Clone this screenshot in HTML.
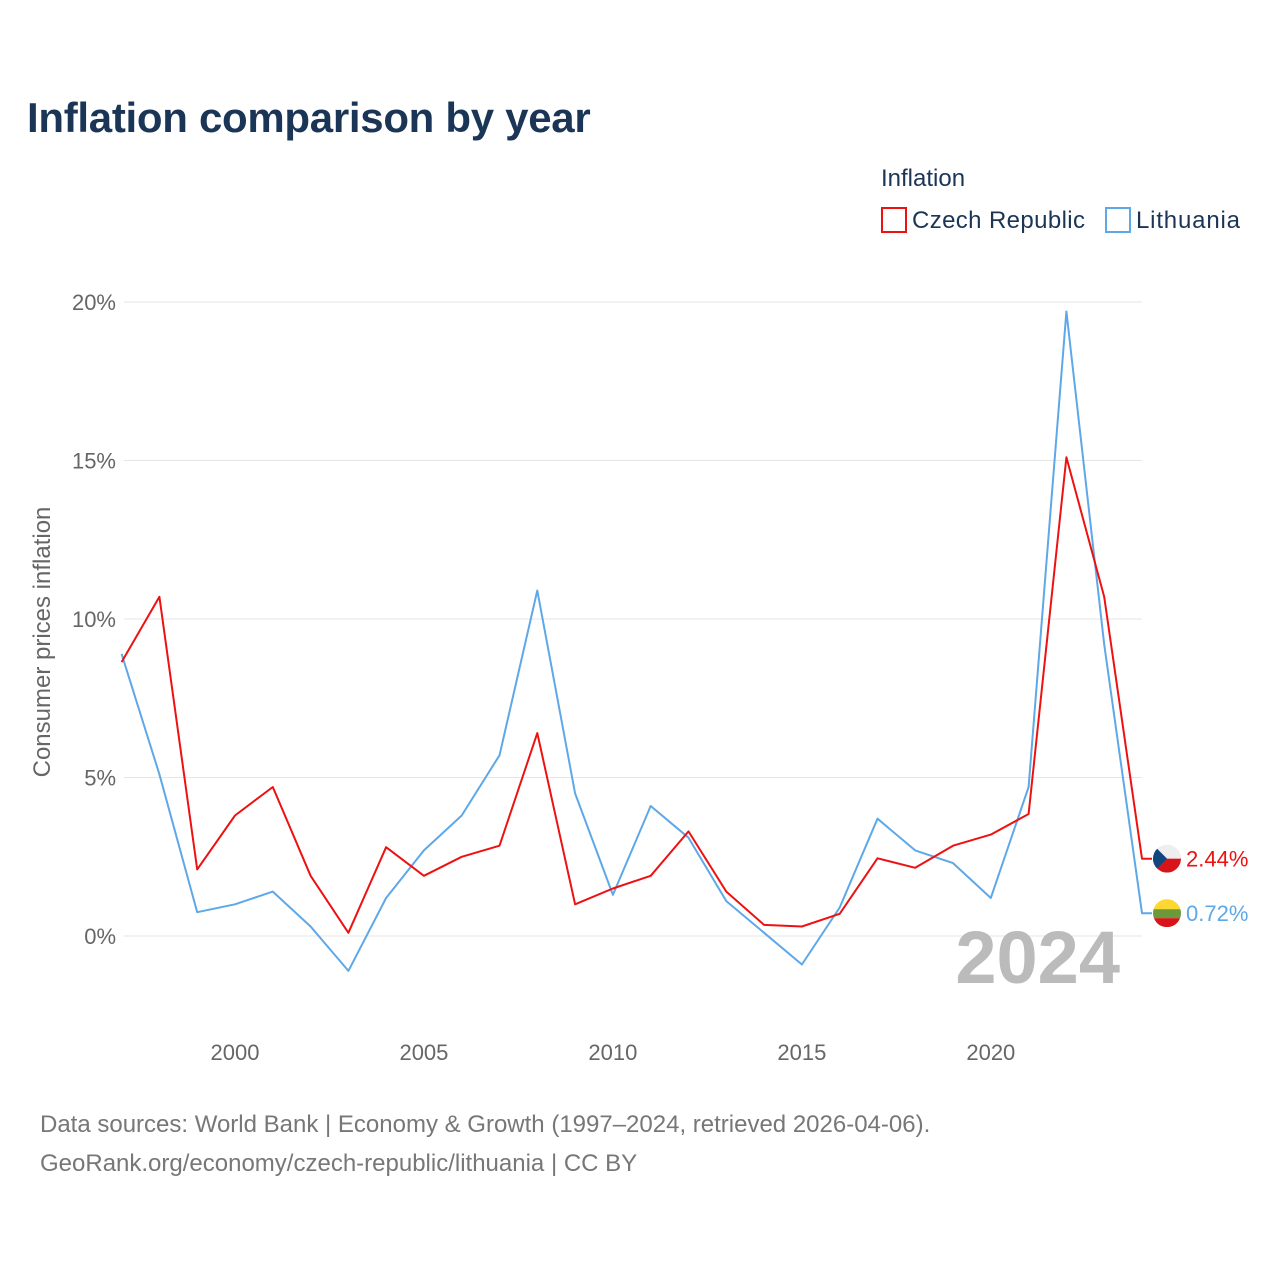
<!DOCTYPE html>
<html><head><meta charset="utf-8"><style>
body{margin:0;background:#fff;font-family:"Liberation Sans",sans-serif}
</style></head><body>
<svg id="chart" width="1280" height="1280" xmlns="http://www.w3.org/2000/svg" font-family="Liberation Sans, sans-serif">
<text x="27" y="132" font-size="42" font-weight="bold" fill="#1b3556" letter-spacing="-0.3">Inflation comparison by year</text>
<text x="881" y="186" font-size="24" fill="#1b3556">Inflation</text>
<g><rect x="882" y="208" width="24" height="24" fill="none" stroke="#ee1111" stroke-width="2"/><text x="912" y="228" font-size="24" fill="#1b3556" textLength="173">Czech Republic</text></g>
<g><rect x="1106" y="208" width="24" height="24" fill="none" stroke="#5ea8e8" stroke-width="2"/><text x="1136" y="228" font-size="24" fill="#1b3556" textLength="104">Lithuania</text></g>
<text transform="translate(50,642) rotate(-90)" text-anchor="middle" font-size="24" fill="#666">Consumer prices inflation</text>
<g id="grid"></g><g id="yt"></g><g id="xt"></g>
<text x="1120" y="983" text-anchor="end" font-size="74" font-weight="bold" fill="#bbb">2024</text>
<g id="series"></g>
<text x="40" y="1132" font-size="24" fill="#777">Data sources: World Bank | Economy &amp; Growth (1997–2024, retrieved 2026-04-06).</text>
<text x="40" y="1171" font-size="24" fill="#777">GeoRank.org/economy/czech-republic/lithuania | CC BY</text>
</svg>
<script>
const years=[1997,1998,1999,2000,2001,2002,2003,2004,2005,2006,2007,2008,2009,2010,2011,2012,2013,2014,2015,2016,2017,2018,2019,2020,2021,2022,2023,2024];
const czech=[8.64,10.7,2.1,3.8,4.7,1.9,0.1,2.8,1.9,2.5,2.85,6.4,1.0,1.5,1.9,3.3,1.4,0.35,0.3,0.7,2.45,2.15,2.85,3.2,3.85,15.1,10.7,2.44];
const lithuania=[8.9,5.1,0.75,1.0,1.4,0.3,-1.1,1.2,2.7,3.8,5.7,10.9,4.5,1.3,4.1,3.1,1.1,0.1,-0.9,0.9,3.7,2.7,2.3,1.2,4.7,19.7,9.2,0.72];
const yTicks=[0,5,10,15,20];
const xTicks=[2000,2005,2010,2015,2020];
const NS="http://www.w3.org/2000/svg";
const X=y=>121.6+(y-1997)*(1142-121.6)/27;
const Y=v=>936-v*31.7;
function mk(t,a,p){const e=document.createElementNS(NS,t);for(const k in a)e.setAttribute(k,a[k]);p.appendChild(e);return e;}
const grid=document.getElementById('grid'),yt=document.getElementById('yt'),xt=document.getElementById('xt'),ser=document.getElementById('series');
yTicks.forEach(v=>{
 const l=mk('line',{x1:124,x2:1142,y1:Y(v),y2:Y(v),stroke:'#e6e6e6','stroke-width':1},grid);
 
 
 const t=mk('text',{x:116,y:Y(v)+8,'text-anchor':'end','font-size':22,fill:'#666'},yt);
 t.textContent=v+'%';
 
 
});
xTicks.forEach(v=>{
 const t=mk('text',{x:X(v),y:1060,'text-anchor':'middle','font-size':22,fill:'#666'},xt);
 t.textContent=v;
 
 
});
function draw(vals,col,name,flag){
 let d=vals.map((v,i)=>(i?'L':'M')+X(years[i]).toFixed(1)+' '+Y(v).toFixed(1)).join(' ');
 const last=vals[vals.length-1];
 d+=' L1152 '+Y(last).toFixed(1);
 const p=mk('path',{d:d,fill:'none',stroke:col,'stroke-width':2,'stroke-linejoin':'round'},ser);
 
 
 const g=mk('g',{},ser);
 
 
 const cy=Y(last),cx=1167;
 const cp=mk('clipPath',{id:'c'+name},g);mk('circle',{cx:cx,cy:cy,r:14},cp);
 const fg=mk('g',{'clip-path':'url(#c'+name+')'},g);
 if(flag==='cz'){mk('rect',{x:cx-14,y:cy-14,width:28,height:14,fill:'#eee'},fg);mk('rect',{x:cx-14,y:cy,width:28,height:14,fill:'#d7141a'},fg);mk('path',{d:`M${cx-14} ${cy-14} L${cx} ${cy} L${cx-14} ${cy+14}Z`,fill:'#11457e'},fg);}
 else{mk('rect',{x:cx-14,y:cy-14,width:28,height:10,fill:'#fdd835'},fg);mk('rect',{x:cx-14,y:cy-4,width:28,height:9,fill:'#6a9a3a'},fg);mk('rect',{x:cx-14,y:cy+5,width:28,height:9,fill:'#d7141a'},fg);}
 const t=mk('text',{x:1186,y:cy+8,'font-size':22,fill:col},ser);
 t.textContent=last.toFixed(2)+'%';
 
 
}
draw(lithuania,'#5ea8e8','lithuania','lt');
draw(czech,'#ee1111','czech','cz');
</script>
</body></html>
